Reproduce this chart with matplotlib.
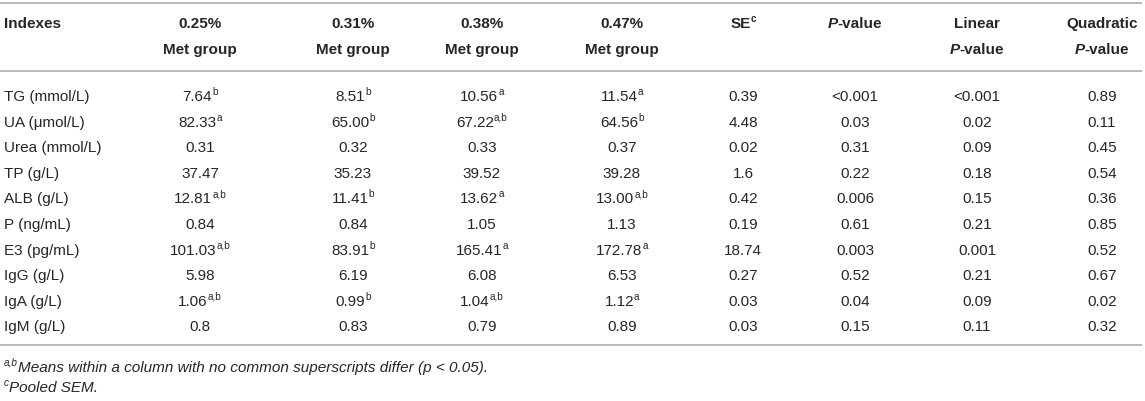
import matplotlib
matplotlib.use("Agg")
import matplotlib.pyplot as plt

plt.rcParams['font.family'] = ['Liberation Sans', 'DejaVu Sans']

indexes = ["TG (mmol/L)", "UA (\u03bcmol/L)", "Urea (mmol/L)", "TP (g/L)", "ALB (g/L)",
           "P (ng/mL)", "E3 (pg/mL)", "IgG (g/L)", "IgA (g/L)", "IgM (g/L)"]

met025 = ["7.64", "82.33", "0.31", "37.47", "12.81", "0.84", "101.03", "5.98", "1.06", "0.8"]
sup025 = ["b", "a", "", "", "a,b", "", "a,b", "", "a,b", ""]
met031 = ["8.51", "65.00", "0.32", "35.23", "11.41", "0.84", "83.91", "6.19", "0.99", "0.83"]
sup031 = ["b", "b", "", "", "b", "", "b", "", "b", ""]
met038 = ["10.56", "67.22", "0.33", "39.52", "13.62", "1.05", "165.41", "6.08", "1.04", "0.79"]
sup038 = ["a", "a,b", "", "", "a", "", "a", "", "a,b", ""]
met047 = ["11.54", "64.56", "0.37", "39.28", "13.00", "1.13", "172.78", "6.53", "1.12", "0.89"]
sup047 = ["a", "b", "", "", "a,b", "", "a", "", "a", ""]
se = ["0.39", "4.48", "0.02", "1.6", "0.42", "0.19", "18.74", "0.27", "0.03", "0.03"]
p_value = ["<0.001", "0.03", "0.31", "0.22", "0.006", "0.61", "0.003", "0.52", "0.04", "0.15"]
linear_p = ["<0.001", "0.02", "0.09", "0.18", "0.15", "0.21", "0.001", "0.21", "0.09", "0.11"]
quadratic_p = ["0.89", "0.11", "0.45", "0.54", "0.36", "0.85", "0.52", "0.67", "0.02", "0.32"]

TXT = "#262626"
RULE = "#b4b4b4"
FS = 11
SUP = 7.2

fig = plt.figure(figsize=(11.45, 4.02), dpi=100)
ax = fig.add_axes([0, 0, 1, 1])
ax.set_xlim(0, 1145)
ax.set_ylim(402, 0)
ax.axis("off")
renderer = fig.canvas.get_renderer()


def rich(x, y, pieces, ha="center"):
    # pieces: (text, weight, style, superscript?)
    made = []
    for s, weight, style, sup in pieces:
        t = ax.text(0, y - (5 if sup else 0), s, fontsize=SUP if sup else FS,
                    fontweight=weight, fontstyle=style, color=TXT,
                    ha="left", va="center")
        made.append(t)
    widths = [t.get_window_extent(renderer).width for t in made]
    total = sum(widths)
    x0 = x - total / 2 if ha == "center" else x
    for t, w in zip(made, widths):
        t.set_x(x0)
        x0 += w


def cell(x, y, value, sup=""):
    pieces = [(value, "normal", "normal", False)]
    if sup:
        pieces.append((sup, "normal", "normal", True))
    rich(x, y, pieces)


col_x = [200, 353, 482, 622, 743, 855, 977, 1102]
h1, h2 = 24, 50
row_y0, row_step = 97, 25.6

# rules
for yy in (4, 72, 346):
    ax.plot([0, 1142], [yy, yy], color=RULE, lw=1.3, solid_capstyle="butt")

# header
rich(4, h1, [("Indexes", "bold", "normal", False)], ha="left")
for x, lab in zip(col_x[:4], ["0.25%", "0.31%", "0.38%", "0.47%"]):
    rich(x, h1, [(lab, "bold", "normal", False)])
    rich(x, h2, [("Met group", "bold", "normal", False)])
rich(col_x[4], h1, [("SE", "bold", "normal", False), ("c", "bold", "normal", True)])
rich(col_x[5], h1, [("P", "bold", "italic", False), ("-value", "bold", "normal", False)])
rich(col_x[6], h1, [("Linear", "bold", "normal", False)])
rich(col_x[6], h2, [("P", "bold", "italic", False), ("-value", "bold", "normal", False)])
rich(col_x[7], h1, [("Quadratic", "bold", "normal", False)])
rich(col_x[7], h2, [("P", "bold", "italic", False), ("-value", "bold", "normal", False)])

# body
groups = [(met025, sup025), (met031, sup031), (met038, sup038), (met047, sup047)]
plain = [se, p_value, linear_p, quadratic_p]
for i, name in enumerate(indexes):
    y = row_y0 + i * row_step
    rich(4, y, [(name, "normal", "normal", False)], ha="left")
    for j, (vals, sups) in enumerate(groups):
        cell(col_x[j], y, vals[i], sups[i])
    for j, vals in enumerate(plain):
        cell(col_x[4 + j], y, vals[i])

# footnotes
rich(4, 368, [("a,b", "normal", "italic", True),
              ("Means within a column with no common superscripts differ (p < 0.05).",
               "normal", "italic", False)], ha="left")
rich(4, 388, [("c", "normal", "italic", True),
              ("Pooled SEM.", "normal", "italic", False)], ha="left")

fig.savefig("out.png", dpi=100)
